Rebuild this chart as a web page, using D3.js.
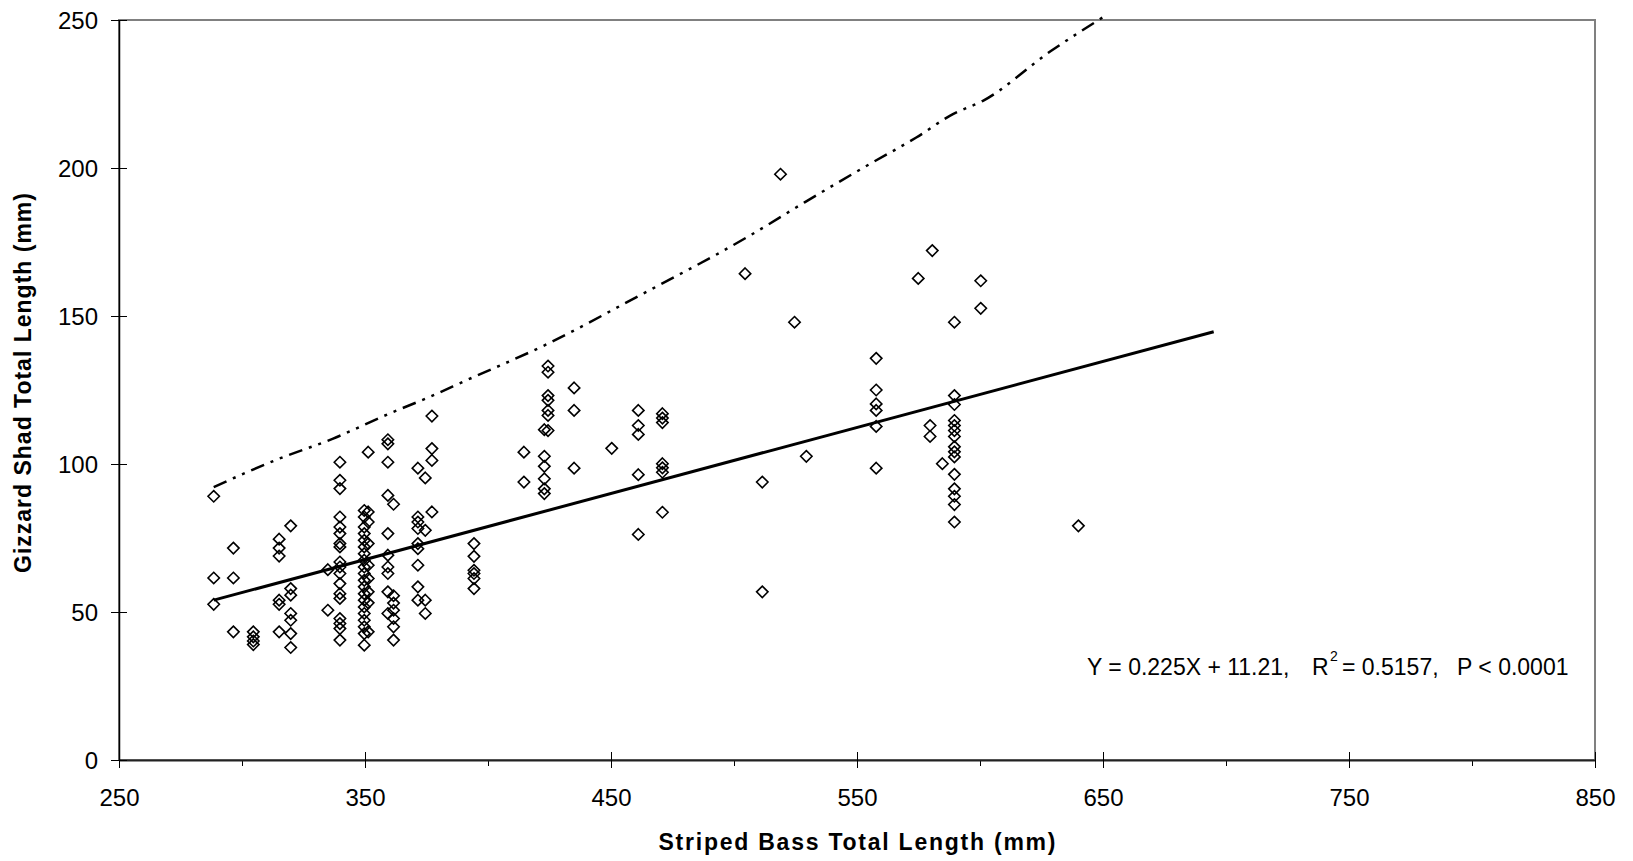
<!DOCTYPE html>
<html>
<head>
<meta charset="utf-8">
<script src="https://cdn.jsdelivr.net/npm/d3@7"></script>
<style>
  body { margin: 0; background: #fff; }
  text { font-family: "Liberation Sans", Arial, sans-serif; fill: #000; }
</style>
</head>
<body>
<div id="chart"></div>
<script>
/* Gizzard shad length vs striped bass length, scatter with fitted line
   and upper prediction band. */

// each entry: striped bass TL (mm), then the gizzard shad TLs found at that length
const bassColumns = [288.5, 296.5, 304.6, 315.1, 319.8, 334.9, 339.8, 349.7, 351.3,
                     359.3, 361.6, 371.5, 374.5, 377.2, 394.3, 414.6, 422.9, 424.4,
                     435, 450.3, 461.1, 470.9, 504.5, 511.5, 518.9, 524.6, 529.4,
                     557.8, 574.9, 579.7, 580.6, 584.7, 589.6, 600.3, 640];
const shadColumns = [
    [89.1, 61.5, 52.6],
    [71.6, 61.5, 43.3],
    [43.3, 41.6, 40.2, 39.0],
    [74.6, 71.6, 68.9, 54.0, 52.6, 43.3],
    [79.1, 57.9, 55.7, 49.5, 47.2, 42.7, 38.0],
    [64.3, 50.6],
    [100.6, 94.5, 91.7, 82.1, 78.7, 76.5, 73.1, 72.0, 66.9, 65.2, 63.0, 59.6, 56.2, 54.6, 47.8, 46.1, 44.4, 40.5],
    [84.3, 82.1, 78.7, 76.5, 74.2, 72.0, 69.7, 67.5, 65.2, 63.0, 60.7, 58.5, 56.2, 54.0, 51.7, 49.5, 47.2, 45.0, 42.7, 38.8],
    [104.0, 83.8, 80.4, 73.1, 65.8, 61.3, 56.8, 53.1, 43.3],
    [108.2, 106.8, 100.6, 89.4, 76.5, 69.2, 65.2, 63.0, 56.8, 49.5],
    [86.4, 55.5, 53.0, 50.6, 47.8, 45.0, 40.5],
    [98.6, 82.1, 80.4, 78.2, 73.1, 71.4, 65.8, 58.5, 54.0],
    [95.3, 77.6, 54.0, 49.5],
    [116.2, 105.2, 101.2, 83.8],
    [73.1, 68.8, 64.1, 63.0, 61.3, 57.9],
    [104.0, 93.9],
    [111.6, 102.6, 99.2, 95.0, 91.6, 90.0],
    [133.1, 131.0, 123.1, 121.5, 118.1, 116.4, 111.3],
    [125.7, 118.1, 98.6],
    [105.3],
    [118.1, 113.0, 110.0, 96.4, 76.2],
    [117.0, 115.5, 114.0, 100.1, 98.7, 97.2, 83.7],
    [164.3],
    [93.9, 56.8],
    [197.9],
    [147.9],
    [102.6],
    [135.7, 125.0, 120.3, 118.1, 112.7, 98.6],
    [162.7],
    [113.0, 109.3],
    [172.1],
    [100.1],
    [147.9, 123.1, 120.1, 114.7, 113.0, 111.3, 109.3, 105.8, 104.1, 102.4, 96.5, 91.6, 89.1, 86.3, 80.4],
    [161.9, 152.6],
    [79.1]
];

// fitted line as drawn (end points)
const fitX = [288.5, 695];
const fitY = [54.0, 144.7];

// upper dash-dot-dot curve
const upperX = [288.5, 315.1, 336.8, 359.8, 376.1, 391, 424, 460.2, 506.3, 528.7, 555.1, 574.1, 589, 601.2, 628.8, 652];
const upperY = [92.2, 101.8, 108.5, 117.0, 122.6, 128.2, 140.5, 156.3, 177.1, 188.4, 201.3, 210.3, 218.2, 222.7, 239.5, 252];

const xTicks = [250, 350, 450, 550, 650, 750, 850];
const xMinor = [300, 400, 500, 600, 700, 800];
const yTicks = [0, 50, 100, 150, 200, 250];

const width = 1633,
      height = 861,
      margin = ({ top: 20, right: 38, bottom: 101, left: 119 });

let points = [];
bassColumns.forEach((bx, i) => {
    for (let v of shadColumns[i]) points.push({ x: bx, y: v });
});

let svg = d3.select("#chart")
    .append("svg")
    .attr("width", width)
    .attr("height", height)
    .attr("viewBox", [0, 0, width, height]);

svg.append("rect")
    .attr("width", width).attr("height", height)
    .attr("fill", "#fff");

let x = d3.scaleLinear()
    .domain([250, 850])
    .range([margin.left, width - margin.right]);

let y = d3.scaleLinear()
    .domain([0, 250])
    .range([height - margin.bottom, margin.top]);

// plot frame (grey top & right)
svg.append("rect")
    .attr("x", x(250)).attr("y", y(250))
    .attr("width", x(850) - x(250)).attr("height", y(0) - y(250))
    .attr("fill", "none")
    .attr("stroke", "#808080")
    .attr("stroke-width", 2);

// minor x ticks (outside only)
svg.append("g")
    .attr("transform", `translate(0,${y(0)})`)
    .call(d3.axisBottom(x).tickValues(xMinor).tickSize(6).tickFormat(""))
    .call(g => g.select(".domain").remove())
    .call(g => g.selectAll(".tick line").attr("stroke", "#000").attr("stroke-width", 1));

// x axis, ticks cross the line
svg.append("g")
    .attr("transform", `translate(0,${y(0)})`)
    .call(d3.axisBottom(x).tickValues(xTicks).tickSize(8).tickSizeOuter(0))
    .call(g => g.select(".domain").attr("stroke", "#222").attr("stroke-width", 2))
    .call(g => g.selectAll(".tick line").attr("y1", -8).attr("y2", 8).attr("stroke", "#000"))
    .call(g => g.selectAll(".tick text")
        .attr("y", 46).attr("dy", 0)
        .style("font-size", "24px")
        .style("font-family", "'Liberation Sans', Arial, sans-serif"));

// y axis
svg.append("g")
    .attr("transform", `translate(${x(250)},0)`)
    .call(d3.axisLeft(y).tickValues(yTicks).tickSize(8).tickSizeOuter(0))
    .call(g => g.select(".domain").attr("stroke", "#000").attr("stroke-width", 1.5))
    .call(g => g.selectAll(".tick line").attr("x1", 8).attr("x2", -8).attr("stroke", "#000"))
    .call(g => g.selectAll(".tick text")
        .attr("x", -21).attr("dy", "0.35em")
        .style("font-size", "24px")
        .style("font-family", "'Liberation Sans', Arial, sans-serif"));

// points: open diamonds
let diamond = "M0,-5.7L5.7,0L0,5.7L-5.7,0Z";
svg.append("g")
    .selectAll("path")
    .data(points)
    .join("path")
    .attr("d", diamond)
    .attr("transform", d => `translate(${x(d.x)},${y(d.y)})`)
    .attr("fill", "none")
    .attr("stroke", "#000")
    .attr("stroke-width", 1.6);

// fitted line
let line = d3.line().x(d => x(d[0])).y(d => y(d[1]));
svg.append("path")
    .datum(fitX.map((v, i) => [v, fitY[i]]))
    .attr("d", line)
    .attr("fill", "none")
    .attr("stroke", "#000")
    .attr("stroke-width", 3);

// upper band
svg.append("path")
    .datum(upperX.map((v, i) => [v, upperY[i]]))
    .attr("d", line.curve(d3.curveMonotoneX))
    .attr("fill", "none")
    .attr("stroke", "#000")
    .attr("stroke-width", 2.5)
    .attr("stroke-dasharray", "14,7,3,7,3,7");

// axis titles
svg.append("text")
    .attr("x", (x(250) + x(850)) / 2)
    .attr("y", 850)
    .attr("text-anchor", "middle")
    .attr("textLength", 397)
    .attr("lengthAdjust", "spacing")
    .style("font-size", "23px")
    .style("font-weight", "bold")
    .text("Striped Bass Total Length (mm)");

svg.append("text")
    .attr("transform", "translate(31,383) rotate(-90)")
    .attr("text-anchor", "middle")
    .attr("textLength", 380)
    .attr("lengthAdjust", "spacing")
    .style("font-size", "23px")
    .style("font-weight", "bold")
    .text("Gizzard Shad Total Length (mm)");

// regression statistics
let eq = svg.append("text")
    .attr("y", 675)
    .style("font-size", "23px");
eq.append("tspan").attr("x", 1087).text("Y = 0.225X + 11.21,");
eq.append("tspan").attr("x", 1312).text("R");
eq.append("tspan").attr("x", 1330).attr("y", 661).style("font-size", "14px").text("2");
eq.append("tspan").attr("x", 1342).attr("y", 675).text("= 0.5157,");
eq.append("tspan").attr("x", 1457).text("P < 0.0001");
</script>
</body>
</html>
